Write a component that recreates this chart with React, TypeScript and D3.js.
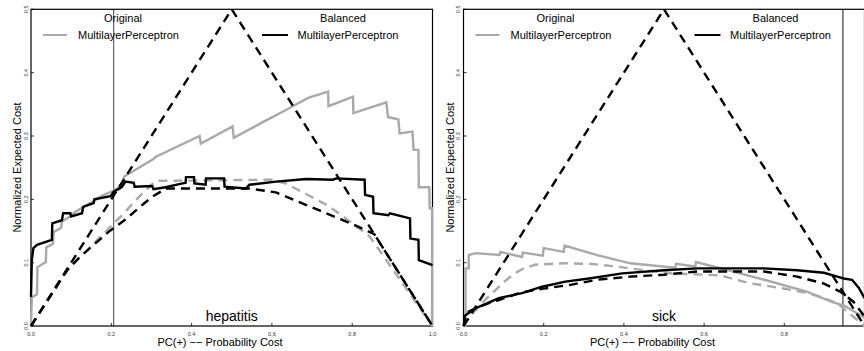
import React from "react";
import * as d3 from "d3";

type Pt = [number, number];

// PC(+) ticks and normalized expected cost ticks
const xTicks = [0, 0.2, 0.4, 0.6, 0.8, 1.0];
const yTicks = [0, 0.1, 0.2, 0.3, 0.4, 0.5];

// trivial classifiers envelope
const trivial: Pt[] = [[0, 0], [0.5, 0.5], [1, 0]];

// hepatitis: MultilayerPerceptron trained on original data
const hepOriginal: Pt[] = [
  [0, 0], [0.002, 0.045], [0.015, 0.05], [0.016, 0.093], [0.037, 0.101], [0.038, 0.124],
  [0.055, 0.13], [0.056, 0.148], [0.075, 0.155], [0.077, 0.165], [0.095, 0.172], [0.11, 0.18],
  [0.13, 0.188], [0.15, 0.195], [0.175, 0.205], [0.2, 0.212], [0.215, 0.217], [0.228, 0.226],
  [0.232, 0.236], [0.306, 0.264], [0.31, 0.267], [0.42, 0.3], [0.423, 0.288], [0.502, 0.315],
  [0.505, 0.297], [0.575, 0.321], [0.635, 0.341], [0.69, 0.36], [0.74, 0.37], [0.741, 0.347],
  [0.802, 0.362], [0.803, 0.336], [0.885, 0.353], [0.889, 0.33], [0.915, 0.326], [0.918, 0.304],
  [0.95, 0.307], [0.953, 0.278], [0.965, 0.278], [0.966, 0.219], [0.992, 0.219], [0.993, 0.186],
  [0.999, 0.186], [0.999, 0.0],
];
// hepatitis: MultilayerPerceptron trained on balanced data
const hepBalanced: Pt[] = [
  [0, 0.046], [0.002, 0.104], [0.006, 0.123], [0.015, 0.128], [0.052, 0.136], [0.053, 0.162],
  [0.077, 0.167], [0.08, 0.178], [0.098, 0.178], [0.1, 0.173], [0.127, 0.178], [0.13, 0.188],
  [0.156, 0.194], [0.158, 0.2], [0.198, 0.205], [0.206, 0.212], [0.223, 0.218], [0.227, 0.22],
  [0.235, 0.228], [0.256, 0.226], [0.258, 0.22], [0.302, 0.221], [0.305, 0.216], [0.335, 0.219],
  [0.369, 0.224], [0.385, 0.226], [0.386, 0.235], [0.406, 0.235], [0.407, 0.225], [0.435, 0.223],
  [0.436, 0.233], [0.481, 0.233], [0.482, 0.22], [0.535, 0.217], [0.544, 0.223], [0.61, 0.228],
  [0.686, 0.232], [0.752, 0.231], [0.76, 0.233], [0.831, 0.231], [0.832, 0.207], [0.852, 0.204],
  [0.853, 0.178], [0.89, 0.175], [0.894, 0.178], [0.944, 0.17], [0.945, 0.138], [0.965, 0.136],
  [0.966, 0.104], [1.0, 0.096],
];
// hepatitis: lower envelopes
const hepOriginalHull: Pt[] = [
  [0, 0], [0.085, 0.083], [0.106, 0.099], [0.14, 0.12], [0.173, 0.141], [0.227, 0.175],
  [0.269, 0.204], [0.31, 0.229], [0.6, 0.231], [0.635, 0.225], [0.74, 0.19], [0.835, 0.146],
  [0.845, 0.14], [1, 0],
];
const hepBalancedHull: Pt[] = [
  [0, 0], [0.09, 0.088], [0.12, 0.108], [0.156, 0.128], [0.194, 0.149], [0.235, 0.168],
  [0.277, 0.191], [0.302, 0.204], [0.336, 0.217], [0.544, 0.217], [0.61, 0.211], [0.72, 0.182],
  [0.8, 0.161], [0.855, 0.145], [1, 0],
];

// sick: MultilayerPerceptron trained on original data
const sickOriginal: Pt[] = [
  [0, 0], [0.005, 0.0], [0.005, 0.091], [0.013, 0.091], [0.013, 0.112], [0.03, 0.115],
  [0.09, 0.112], [0.092, 0.117], [0.146, 0.109], [0.148, 0.116], [0.198, 0.111], [0.2, 0.123],
  [0.25, 0.117], [0.252, 0.127], [0.333, 0.112], [0.416, 0.099], [0.528, 0.092], [0.53, 0.098],
  [0.578, 0.094], [0.58, 0.101], [0.666, 0.087], [0.75, 0.073], [0.858, 0.054], [0.915, 0.039],
  [0.95, 0.032], [1.0, 0.013],
];
// sick: MultilayerPerceptron trained on balanced data
const sickBalanced: Pt[] = [
  [0, 0.014], [0.005, 0.017], [0.03, 0.028], [0.06, 0.036], [0.088, 0.044], [0.146, 0.052],
  [0.196, 0.062], [0.254, 0.07], [0.313, 0.075], [0.396, 0.083], [0.5, 0.088], [0.583, 0.091],
  [0.666, 0.091], [0.749, 0.091], [0.832, 0.088], [0.899, 0.084], [0.932, 0.078], [0.948, 0.075],
  [0.969, 0.073], [0.986, 0.06], [1.0, 0.044],
];
// sick: lower envelopes
const sickOriginalHull: Pt[] = [
  [0, 0], [0.02, 0.017], [0.045, 0.036], [0.075, 0.054], [0.1, 0.069], [0.125, 0.082],
  [0.15, 0.091], [0.18, 0.097], [0.25, 0.099], [0.32, 0.098], [0.38, 0.094], [0.45, 0.088],
  [0.52, 0.083], [0.64, 0.08], [0.71, 0.068], [0.79, 0.06], [0.86, 0.052], [0.93, 0.037], [1, 0],
];
const sickBalancedHull: Pt[] = [
  [0, 0], [0.005, 0.016], [0.013, 0.023], [0.038, 0.03], [0.063, 0.036], [0.088, 0.041],
  [0.113, 0.046], [0.138, 0.052], [0.171, 0.056], [0.2, 0.059], [0.267, 0.065], [0.333, 0.073],
  [0.416, 0.078], [0.5, 0.081], [0.583, 0.086], [0.666, 0.086], [0.749, 0.086], [0.832, 0.078],
  [0.899, 0.067], [0.94, 0.054], [0.973, 0.038], [1, 0.015],
];

const datasets = ["hepatitis", "sick"];
const thresholds = [0.206, 0.946];

const FONT = "'Liberation Sans', Arial, Helvetica, sans-serif";
const GRAY = "#a9a9a9";
const W = 864;
const H = 351;
const TOP = 9.3;
const BOTTOM = 326;

interface PanelProps {
  x0: number;
  x1: number;
  name: string;
  threshold: number;
  orig: Pt[];
  bal: Pt[];
  origHull: Pt[];
  balHull: Pt[];
  thickThreshold: boolean;
}

function Panel({ x0, x1, name, threshold, orig, bal, origHull, balHull, thickThreshold }: PanelProps) {
  const x = d3.scaleLinear().domain([0, 1]).range([x0, x1]);
  const y = d3.scaleLinear().domain([0, 0.5]).range([BOTTOM, TOP]);
  const line = d3.line<Pt>().x((d) => x(d[0])).y((d) => y(d[1]));
  const dash = "9,6";
  const lw = 2.4;
  // tick labels that would run past the drawing edge are left out
  const visibleX = xTicks.filter((t) => x(t) + 5 <= W);
  return (
    <g>
      {/* threshold line */}
      <line
        x1={x(threshold)} x2={x(threshold)} y1={TOP} y2={BOTTOM}
        stroke={thickThreshold ? "#777" : "#444"} strokeWidth={thickThreshold ? 1.8 : 1}
      />
      {/* frame */}
      <rect x={x0} y={TOP} width={x1 - x0} height={BOTTOM - TOP} fill="none" stroke="#000" strokeWidth={1.2} />
      {/* ticks */}
      {visibleX.map((t) => (
        <g key={"x" + t}>
          <line x1={x(t)} x2={x(t)} y1={BOTTOM} y2={BOTTOM - 3} stroke="#000" strokeWidth={0.8} />
          <text x={x(t)} y={336} fontSize={5.5} textAnchor="middle" fill="#333" fontFamily={FONT}>
            {t.toFixed(1)}
          </text>
        </g>
      ))}
      {yTicks.map((t) => (
        <g key={"y" + t}>
          <line x1={x0} x2={x0 + 3} y1={y(t)} y2={y(t)} stroke="#000" strokeWidth={0.8} />
          <text
            transform={`translate(${x0 - 3.5},${y(t)}) rotate(-90)`}
            fontSize={5.5} textAnchor="middle" fill="#333" fontFamily={FONT}
          >
            {t.toFixed(1)}
          </text>
        </g>
      ))}
      {/* curves */}
      <path d={line(origHull) ?? ""} fill="none" stroke={GRAY} strokeWidth={lw} strokeDasharray={dash} />
      <path d={line(orig) ?? ""} fill="none" stroke={GRAY} strokeWidth={lw} strokeLinejoin="miter" />
      <path d={line(balHull) ?? ""} fill="none" stroke="#000" strokeWidth={lw} strokeDasharray={dash} />
      <path d={line(bal) ?? ""} fill="none" stroke="#000" strokeWidth={lw} strokeLinejoin="miter" />
      <path d={line(trivial) ?? ""} fill="none" stroke="#000" strokeWidth={lw} strokeDasharray={dash} />
      {/* legend */}
      <text x={x0 + 92} y={22} fontSize={11} textAnchor="middle" fontFamily={FONT}>Original</text>
      <line x1={x0 + 12} x2={x0 + 36} y1={35} y2={35} stroke={GRAY} strokeWidth={2} />
      <text x={x0 + 47} y={39} fontSize={11} fontFamily={FONT}>MultilayerPerceptron</text>
      <text x={x0 + 312} y={22} fontSize={11} textAnchor="middle" fontFamily={FONT}>Balanced</text>
      <line x1={x0 + 231} x2={x0 + 257} y1={35} y2={35} stroke="#000" strokeWidth={2} />
      <text x={x0 + 266.5} y={39} fontSize={11} fontFamily={FONT}>MultilayerPerceptron</text>
      {/* dataset name */}
      <text x={x(0.5)} y={320.5} fontSize={14} textAnchor="middle" fontFamily={FONT}>{name}</text>
      {/* axis titles */}
      <text x={x0 + 189} y={346} fontSize={11} textAnchor="middle" fontFamily={FONT}>
        PC(+) −− Probability Cost
      </text>
      <text
        transform={`translate(${x0 - 10},167.5) rotate(-90)`}
        fontSize={11} textAnchor="middle" fontFamily={FONT}
      >
        Normalized Expected Cost
      </text>
    </g>
  );
}

export default function App() {
  return (
    <svg
      width={W} height={H} viewBox={`0 0 ${W} ${H}`}
      style={{ position: "absolute", left: 0, top: 0, background: "#fff" }}
    >
      <rect x={0} y={0} width={W} height={H} fill="#fff" />
      <Panel
        x0={31} x1={432.5} name={datasets[0]} threshold={thresholds[0]}
        orig={hepOriginal} bal={hepBalanced} origHull={hepOriginalHull} balHull={hepBalancedHull}
        thickThreshold={false}
      />
      <Panel
        x0={463.5} x1={864.5} name={datasets[1]} threshold={thresholds[1]}
        orig={sickOriginal} bal={sickBalanced} origHull={sickOriginalHull} balHull={sickBalancedHull}
        thickThreshold={true}
      />
    </svg>
  );
}
